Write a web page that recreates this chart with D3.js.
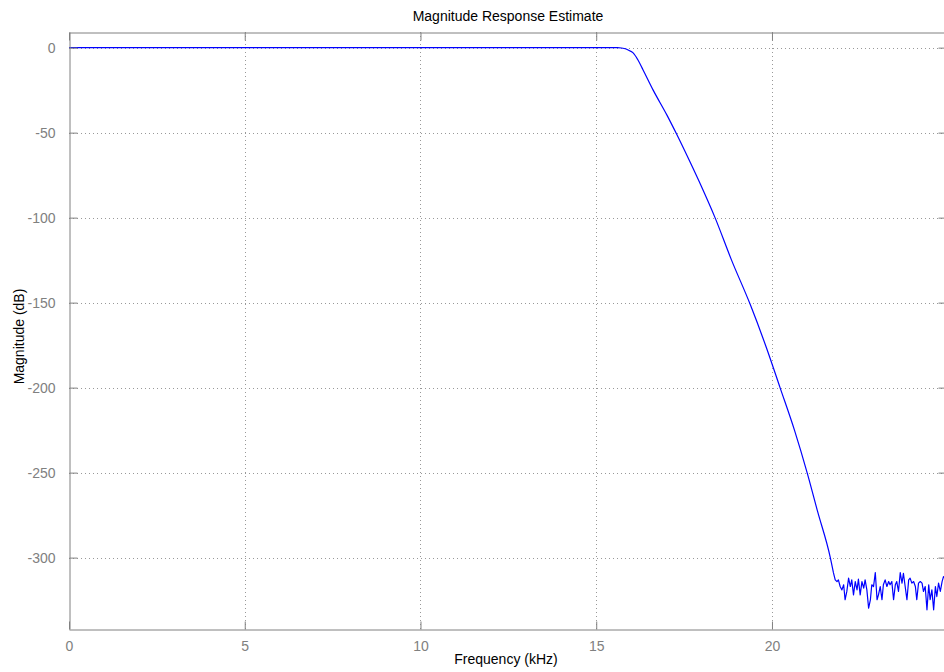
<!DOCTYPE html>
<html>
<head>
<meta charset="utf-8">
<title>Magnitude Response Estimate</title>
<script src="https://cdn.jsdelivr.net/npm/d3@7"></script>
<style>
  html, body { margin: 0; padding: 0; background: #fff; }
  svg { display: block; font-family: "Liberation Sans", Arial, sans-serif; }
</style>
</head>
<body>
<svg id="chart"></svg>
<script>
// Tick values
const xTicks = [0, 5, 10, 15, 20];
const yTicks = [0, -50, -100, -150, -200, -250, -300];

// Passband + transition band, [frequency kHz, magnitude dB]
const rolloff = [
  [0, 0], [15.6, 0], [15.72, -0.2], [15.85, -0.8], [15.95, -1.8],
  [16.05, -3.1], [16.18, -7], [16.33, -13], [16.62, -25], [17.02, -40],
  [17.29, -51], [17.64, -66], [18.0, -82], [18.38, -100],
  [18.85, -125], [19.38, -151], [19.85, -177], [20.23, -200], [20.64, -225],
  [21.0, -250], [21.3, -273], [21.66, -300], [21.75, -309]
];

// Stopband noise floor, [frequency kHz, magnitude dB]
const stopband = [
  [21.80, -313.1], [21.85, -314.1], [21.89, -313.1], [21.94, -317.0], [21.99, -319.0],
  [22.04, -316.0], [22.08, -324.8], [22.13, -319.9], [22.18, -312.1], [22.23, -317.0],
  [22.27, -313.1], [22.32, -321.9], [22.37, -314.1], [22.42, -319.0], [22.46, -312.7],
  [22.51, -321.9], [22.56, -314.1], [22.61, -318.0], [22.65, -313.1], [22.70, -319.0],
  [22.75, -329.7], [22.80, -324.8], [22.84, -316.0], [22.89, -317.0], [22.94, -308.8],
  [22.99, -324.8], [23.03, -321.9], [23.08, -317.0], [23.13, -324.8], [23.17, -316.0],
  [23.22, -313.1], [23.27, -317.0], [23.32, -314.1], [23.36, -316.0], [23.41, -314.1],
  [23.46, -324.8], [23.51, -316.0], [23.55, -314.1], [23.60, -319.9], [23.65, -308.8],
  [23.70, -315.0], [23.74, -309.2], [23.79, -317.0], [23.84, -324.8], [23.89, -313.1],
  [23.93, -312.1], [23.98, -315.0], [24.03, -314.1], [24.08, -317.0], [24.12, -324.8],
  [24.17, -315.0], [24.22, -314.1], [24.27, -315.0], [24.31, -319.9], [24.36, -317.0],
  [24.41, -330.7], [24.46, -316.0], [24.50, -324.8], [24.55, -319.0], [24.60, -330.7],
  [24.65, -317.0], [24.69, -322.9], [24.74, -315.0], [24.79, -319.9], [24.84, -314.1],
  [24.88, -311.2], [24.95, -313.1]
];

// Layout
const config = {
  width: 944,
  height: 672,
  left: 69,
  top: 32,
  right: 947,
  bottom: 629,
  tickLen: 8,
  axisColor: "#808080",
  gridColor: "#999",
  lineColor: "#0000ff"
};

const svg = d3.select("#chart")
  .attr("width", config.width)
  .attr("height", config.height);

const x = d3.scaleLinear().domain([0, 24.98]).range([config.left, config.right]);
const y = d3.scaleLinear().domain([-342, 9.2]).range([config.bottom, config.top]);

// plain hyphen for negatives, like the original
const fmt = d => String(d);

// Dotted grid
const grid = svg.append("g").attr("class", "grid")
  .attr("stroke", config.gridColor)
  .attr("stroke-width", 1)
  .attr("stroke-dasharray", "1,3");

grid.selectAll("line.vgrid")
  .data(xTicks.filter(d => d !== 0))
  .enter().append("line")
  .attr("class", "vgrid")
  .attr("x1", d => Math.round(x(d)) + 0.5)
  .attr("x2", d => Math.round(x(d)) + 0.5)
  .attr("y1", config.top)
  .attr("y2", config.bottom);

grid.selectAll("line.hgrid")
  .data(yTicks)
  .enter().append("line")
  .attr("class", "hgrid")
  .attr("x1", config.left)
  .attr("x2", config.right)
  .attr("y1", d => Math.round(y(d)) + 0.5)
  .attr("y2", d => Math.round(y(d)) + 0.5);

// Clip the trace to the plot box
svg.append("clipPath").attr("id", "plot-clip")
  .append("rect")
  .attr("x", config.left)
  .attr("y", config.top)
  .attr("width", config.right - config.left)
  .attr("height", config.bottom - config.top);

const trace = svg.append("g")
  .attr("clip-path", "url(#plot-clip)")
  .attr("fill", "none")
  .attr("stroke", config.lineColor)
  .attr("stroke-width", 1.2)
  .attr("stroke-linejoin", "round");

// smooth roll-off, then straight segments through the noise floor
trace.append("path")
  .datum(rolloff)
  .attr("d", d3.line().x(d => x(d[0])).y(d => y(d[1])).curve(d3.curveMonotoneX));

trace.append("path")
  .datum([rolloff[rolloff.length - 1]].concat(stopband))
  .attr("d", d3.line().x(d => x(d[0])).y(d => y(d[1])));

// Axes: ticks pointing inward on all four sides
function styleAxis(g) {
  g.select(".domain").attr("stroke", config.axisColor);
  g.selectAll(".tick line").attr("stroke", config.axisColor);
  g.selectAll(".tick text")
    .attr("fill", config.axisColor)
    .style("font-size", "14px");
}

const xAxis = svg.append("g")
  .attr("transform", `translate(0,${config.bottom + 0.5})`)
  .call(d3.axisBottom(x).tickValues(xTicks).tickFormat(fmt)
    .tickSizeInner(-config.tickLen).tickSizeOuter(0).tickPadding(12));
styleAxis(xAxis);

const xAxisTop = svg.append("g")
  .attr("transform", `translate(0,${config.top + 0.5})`)
  .call(d3.axisTop(x).tickValues(xTicks).tickFormat("")
    .tickSizeInner(-config.tickLen).tickSizeOuter(0));
styleAxis(xAxisTop);

const yAxis = svg.append("g")
  .attr("transform", `translate(${config.left + 0.5},0)`)
  .call(d3.axisLeft(y).tickValues(yTicks).tickFormat(fmt)
    .tickSizeInner(-config.tickLen).tickSizeOuter(0).tickPadding(14));
styleAxis(yAxis);

const yAxisRight = svg.append("g")
  .attr("transform", `translate(${config.right - 0.5},0)`)
  .call(d3.axisRight(y).tickValues(yTicks).tickFormat("")
    .tickSizeInner(-config.tickLen).tickSizeOuter(0));
styleAxis(yAxisRight);

// Titles
svg.append("text")
  .attr("x", (config.left + config.right) / 2)
  .attr("y", 21)
  .attr("text-anchor", "middle")
  .style("font-size", "14px")
  .attr("fill", "#000")
  .text("Magnitude Response Estimate");

svg.append("text")
  .attr("x", 506)
  .attr("y", 664)
  .attr("text-anchor", "middle")
  .style("font-size", "14px")
  .attr("fill", "#000")
  .text("Frequency (kHz)");

svg.append("text")
  .attr("transform", `translate(24,${(config.top + config.bottom) / 2 + 6}) rotate(-90)`)
  .attr("text-anchor", "middle")
  .style("font-size", "14px")
  .attr("fill", "#000")
  .text("Magnitude (dB)");
</script>
</body>
</html>
